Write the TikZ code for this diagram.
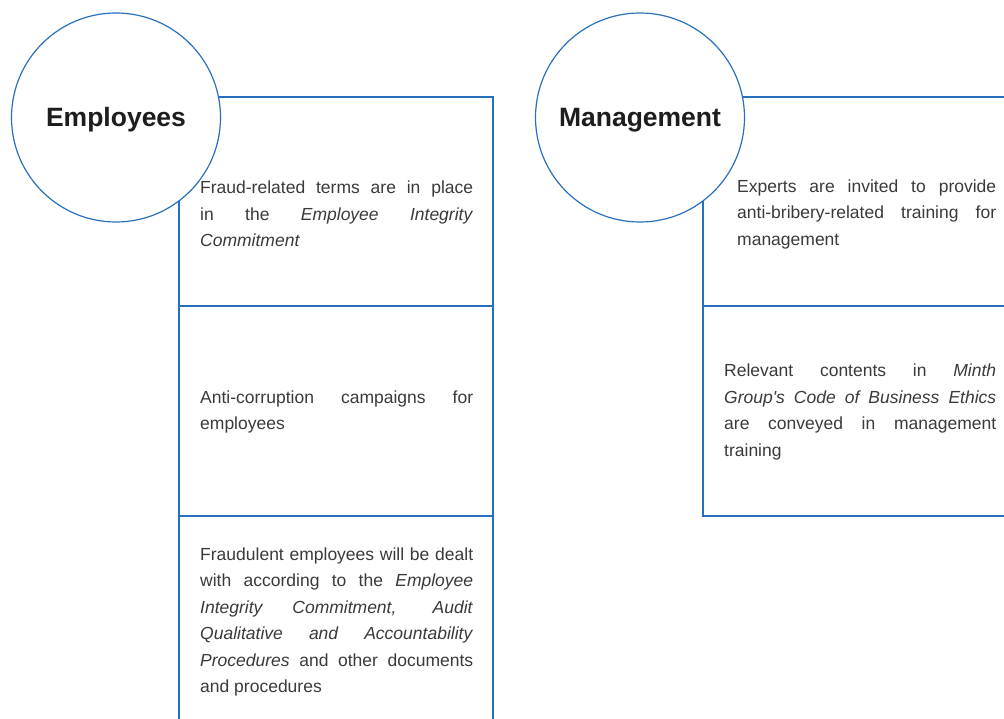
\documentclass[tikz,border=0pt]{standalone}
\usepackage{fontspec}
\setmainfont{Liberation Sans}
\newfontfamily\plainfont{Liberation Sans}
\definecolor{lineblue}{RGB}{40,112,188}
\definecolor{txtgrey}{RGB}{58,58,58}
\definecolor{titleblack}{RGB}{30,28,30}
\begin{document}
\begin{tikzpicture}[x=1pt,y=-1pt,
  cell/.style={draw=lineblue, line width=1.2pt},
  body/.style={inner sep=0pt, anchor=west, text width=#1, align=justify, text=txtgrey,
    font=\fontsize{17.5}{26.5}\selectfont,
    execute at begin node={\tolerance=10000\hbadness=10000\hyphenpenalty=10000}},
  title/.style={circle, draw=lineblue, fill=white, line width=1.2pt, minimum size=209pt,
    inner sep=0pt},
  titletext/.style={inner sep=0pt, font=\fontsize{26.5}{30}\selectfont\bfseries, text=titleblack}]
\useasboundingbox (0,0) rectangle (1004,719);
% Employees column
\draw[cell] (179,97) rectangle (493,306);
\draw[cell] (179,306) rectangle (493,516);
\draw[cell] (179,516) -- (179,730) (493,516) -- (493,730);
% Management column
\draw[cell] (703,97) rectangle (1020,306);
\draw[cell] (703,306) rectangle (1020,516);
% titles
\node[title] (emp) at (116,117.5) {};
\node[titletext] (empt) at ([yshift=-2pt]emp.center) {Employees};
\node[title] (mgmt) at (640,117.5) {};
\node[titletext] (mgmtt) at ([yshift=-2.5pt]mgmt.center) {Management};
% texts
\node[body=273pt] (e1) at (200,214) {Fraud-related terms are in place\linebreak{} in the \textit{Employee Integrity}\linebreak{} \textit{Commitment}};
\node[body=273pt] (e2) at (200,412) {Anti-corruption campaigns for\linebreak{} employees};
\node[body=273pt] (e3) at (200,622) {Fraudulent employees will be dealt\linebreak{} with according to the \textit{Employee}\linebreak{} \textit{Integrity Commitment, Audit}\linebreak{} \textit{Qualitative and Accountability}\linebreak{} \textit{Procedures} and other documents\linebreak{} and procedures};
\node[body=259pt] (m1) at (737,214) {Experts are invited to provide\linebreak{} anti-bribery-related training for\linebreak{} management};
\node[body=272pt] (m2) at (724,412) {Relevant contents in \textit{Minth}\linebreak{} \textit{Group{\plainfont'}s Code of Business Ethics}\linebreak{} are conveyed in management\linebreak{} training};
\end{tikzpicture}
\end{document}
